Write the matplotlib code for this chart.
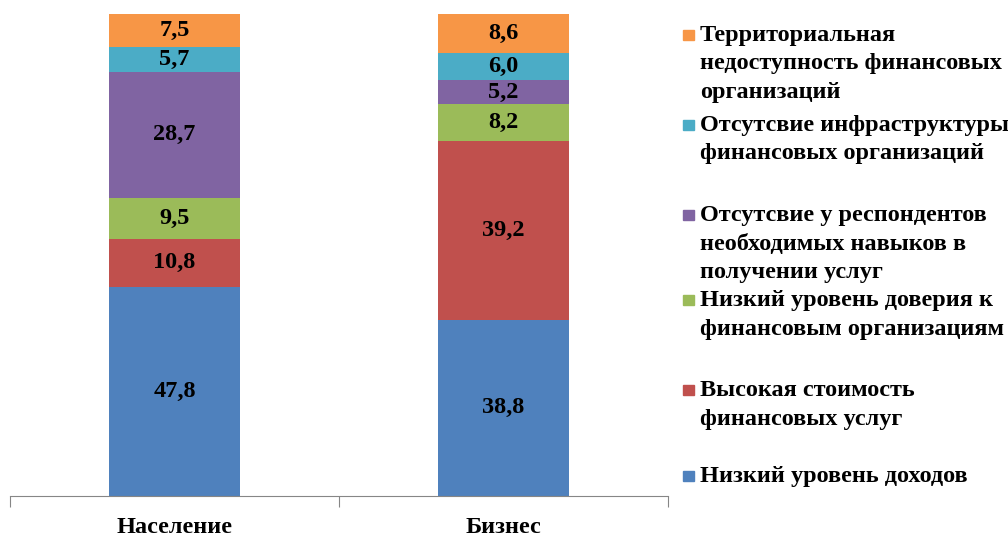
#!/usr/bin/env python3

import matplotlib.pyplot as plt
import matplotlib.patches as mpatches
import numpy as np

plt.rcParams['font.family'] = ['Liberation Serif', 'DejaVu Serif']
plt.rcParams['font.weight'] = 'bold'

# data (bottom to top)

categories = ["Население", "Бизнес"]

series_names = [
	"Низкий уровень доходов",
	"Высокая стоимость\nфинансовых услуг",
	"Низкий уровень доверия к\nфинансовым организациям",
	"Отсутсвие у респондентов\nнеобходимых навыков в\nполучении услуг",
	"Отсутсвие инфраструктуры\nфинансовых организаций",
	"Территориальная\nнедоступность финансовых\nорганизаций",
]

population = [47.8, 10.8, 9.5, 28.7, 5.7, 7.5]
business = [38.8, 39.2, 8.2, 5.2, 6.0, 8.6]

colors = ["#4F81BD", "#C0504D", "#9BBB59", "#8064A2", "#4BACC6", "#F79646"]

# legend first-line baselines, in pixels from top
legend_base = [482, 396, 306, 221, 131, 41]
line_pitch = 28.5

FS = 17.5

# 100% stacked

values = np.array([population, business])
shares = values / values.sum(axis=1, keepdims=True)

W, H = 1008, 537
fig = plt.figure(figsize=(W / 100, H / 100), dpi=100)
ax = fig.add_axes([10 / W, (H - 496) / H, (668 - 10) / W, (496 - 14) / H])

x = np.arange(len(categories))
bottoms = np.zeros(len(categories))
for i in range(len(series_names)):
	ax.bar(x, shares[:, i], width=0.4, bottom=bottoms, color=colors[i])
	for j in range(len(categories)):
		ax.text(x[j], bottoms[j] + shares[j, i] / 2, f"{values[j, i]:.1f}".replace(".", ","),
			ha="center", va="center", fontsize=FS, fontweight="bold")
	bottoms += shares[:, i]

ax.set_xlim(-0.5, 1.5)
ax.set_ylim(0, 1)
ax.set_yticks([])
for s in ["top", "right", "left"]:
	ax.spines[s].set_visible(False)
ax.spines["bottom"].set_color("#868686")
ax.set_xticks([-0.5, 0.5, 1.5])
ax.set_xticklabels([])
ax.tick_params(axis="x", length=8, color="#868686", direction="out")
for j, c in enumerate(categories):
	ax.text(x[j], -0.066, c, ha="center", va="center", fontsize=FS, fontweight="bold")

# legend by hand

for i, name in enumerate(series_names):
	yb = (H - legend_base[i]) / H
	fig.patches.append(mpatches.Rectangle((683 / W, yb + 1 / H), 11 / W, 10 / H,
		transform=fig.transFigure, color=colors[i]))
	for k, line in enumerate(name.split("\n")):
		fig.text(700 / W, yb - k * line_pitch / H, line, ha="left", va="baseline",
			fontsize=FS, fontweight="bold")

fig.savefig("out.png", dpi=100)
